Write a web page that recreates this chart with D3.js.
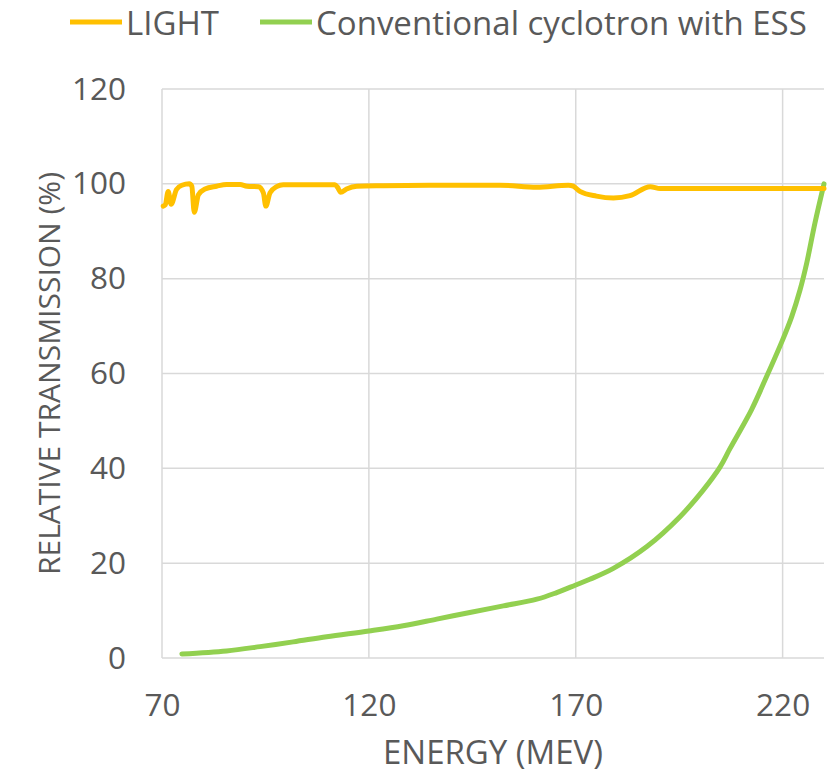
<!DOCTYPE html>
<html>
<head>
<meta charset="utf-8">
<script src="https://cdn.jsdelivr.net/npm/d3@7"></script>
<style>
  html, body { margin: 0; padding: 0; background: #fff; }
  svg { display: block; }
  text { font-family: "Open Sans", "Noto Sans", sans-serif; fill: #595959; }
</style>
</head>
<body>
<svg id="chart" width="831" height="778"></svg>
<script>
// Beam transmission vs. energy for two accelerator concepts
const lightEnergy = [70.3, 70.8, 71.5, 72.2, 73.5, 74.8, 76.6, 77.2, 77.8, 78.8, 80.4, 83.2, 85.6, 88.9, 90.5, 93.3, 94.5, 95.1, 96.1, 97.7, 99.3, 111.8, 112.4, 113.2, 114.6, 117.1, 123.5, 137.2, 151.7, 160.6, 168.2, 169.4, 171.0, 175.0, 179.1, 183.1, 188.0, 190.4, 230.0];
const lightValues = [95.3, 95.6, 98.4, 95.7, 98.8, 99.7, 100.0, 99.5, 94.0, 97.7, 98.9, 99.5, 99.85, 99.85, 99.5, 99.4, 98.1, 95.3, 98.1, 99.4, 99.8, 99.8, 99.3, 98.2, 98.9, 99.5, 99.6, 99.7, 99.7, 99.3, 99.7, 99.5, 98.4, 97.4, 97.0, 97.5, 99.4, 99.0, 99.0];

const cycloEnergy = [74.8, 85.6, 93.7, 101.7, 109.8, 120.0, 128.3, 136.4, 144.4, 152.5, 160.6, 165.4, 170.0, 173.4, 179.1, 187.2, 195.2, 200.8, 204.9, 207.3, 212.5, 216.1, 220.0, 222.2, 224.2, 225.8, 227.8, 230.0];
const cycloValues = [0.85, 1.5, 2.4, 3.4, 4.5, 5.7, 6.8, 8.2, 9.6, 11.0, 12.4, 13.8, 15.4, 16.6, 18.9, 23.5, 29.8, 35.4, 40.3, 44.2, 52.4, 59.3, 67.1, 72.0, 77.6, 83.2, 91.7, 100.0];

const xTicks = [70, 120, 170, 220];
const yTicks = [0, 20, 40, 60, 80, 100, 120];

const seriesNames = ["LIGHT", "Conventional cyclotron with ESS"];
const seriesColors = ["#FFC000", "#92D050"];

const svg = d3.select("#chart");
const margin = { left: 162, top: 89, right: 7, bottom: 120 };
const width = 831 - margin.left - margin.right;
const height = 778 - margin.top - margin.bottom;

const x = d3.scaleLinear().domain([70, 230]).range([margin.left, margin.left + width]);
const y = d3.scaleLinear().domain([0, 120]).range([margin.top + height, margin.top]);

const grid = svg.append("g");
// horizontal gridlines
grid.selectAll("line.h").data(yTicks).join("line")
  .attr("x1", x(70)).attr("x2", x(230))
  .attr("y1", d => y(d)).attr("y2", d => y(d))
  .attr("stroke", "#D9D9D9").attr("stroke-width", 1.5);
// vertical gridlines
grid.selectAll("line.v").data(xTicks).join("line")
  .attr("x1", d => x(d)).attr("x2", d => x(d))
  .attr("y1", y(0)).attr("y2", y(120))
  .attr("stroke", "#D9D9D9").attr("stroke-width", 1.5);

// axes (labels only, lines come from the grid)
const xAxis = svg.append("g")
  .attr("transform", `translate(0,${y(0)})`)
  .call(d3.axisBottom(x).tickValues(xTicks).tickSize(0).tickPadding(36).tickFormat(d3.format("d")));
const yAxis = svg.append("g")
  .attr("transform", `translate(${margin.left},0)`)
  .call(d3.axisLeft(y).tickValues(yTicks).tickSize(0).tickPadding(36).tickFormat(d3.format("d")));
[xAxis, yAxis].forEach(a => {
  a.select(".domain").remove();
  a.selectAll("text").attr("font-size", 31.5).attr("fill", "#595959")
    .style("font-family", '"Open Sans", "Noto Sans", sans-serif');
});

// axis titles
svg.append("text")
  .attr("x", x(150)).attr("y", 751)
  .attr("text-anchor", "middle").attr("dominant-baseline", "central")
  .attr("font-size", 33)
  .text("ENERGY (MEV)");
svg.append("text")
  .attr("transform", `translate(48,${y(60)}) rotate(-90)`)
  .attr("text-anchor", "middle").attr("dominant-baseline", "central")
  .attr("font-size", 30)
  .text("RELATIVE TRANSMISSION (%)");

// series lines
const lightData = lightEnergy.map((e, i) => [e, lightValues[i]]);
const cycloData = cycloEnergy.map((e, i) => [e, cycloValues[i]]);

svg.append("path")
  .datum(cycloData)
  .attr("fill", "none").attr("stroke", seriesColors[1]).attr("stroke-width", 5)
  .attr("stroke-linecap", "round").attr("stroke-linejoin", "round")
  .attr("d", d3.line().x(d => x(d[0])).y(d => y(d[1])).curve(d3.curveCatmullRom.alpha(0.5)));

svg.append("path")
  .datum(lightData)
  .attr("fill", "none").attr("stroke", seriesColors[0]).attr("stroke-width", 5)
  .attr("stroke-linecap", "round").attr("stroke-linejoin", "round")
  .attr("d", d3.line().x(d => x(d[0])).y(d => y(d[1])).curve(d3.curveMonotoneX));

// legend
const legendItems = [
  { name: seriesNames[0], color: seriesColors[0], x0: 70 },
  { name: seriesNames[1], color: seriesColors[1], x0: 260 }
];
const legend = svg.append("g");
legendItems.forEach(it => {
  legend.append("line")
    .attr("x1", it.x0).attr("x2", it.x0 + 52)
    .attr("y1", 22).attr("y2", 22)
    .attr("stroke", it.color).attr("stroke-width", 5);
  legend.append("text")
    .attr("x", it.x0 + 56).attr("y", 22)
    .attr("dominant-baseline", "central")
    .attr("font-size", 33)
    .text(it.name);
});
</script>
</body>
</html>
